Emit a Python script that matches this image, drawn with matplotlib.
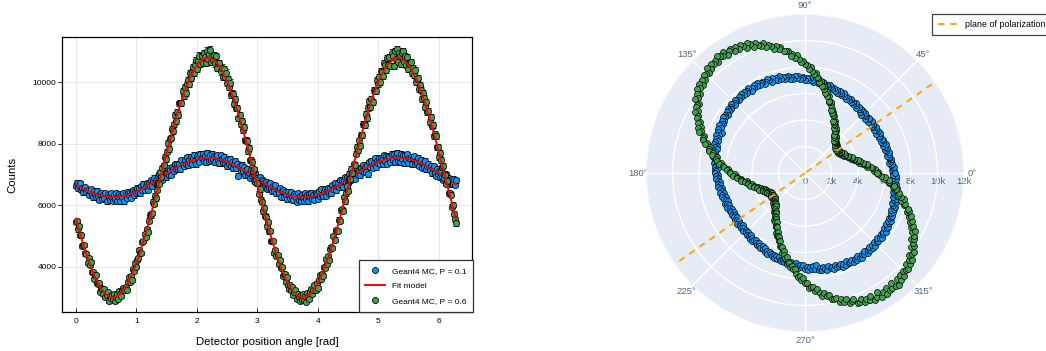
import numpy as np
import matplotlib
matplotlib.use("Agg")
import matplotlib.pyplot as plt
from matplotlib.lines import Line2D
from matplotlib.transforms import ScaledTranslation

plt.rcParams['font.family'] = ['Liberation Sans', 'DejaVu Sans']

# detector positions (degrees), one bin per degree
ANGLE_DEG = list(range(0, 361))

# Geant4 MC counts, P = 0.1 (rows of 12 degrees)
COUNTS_P01 = [
    6641, 6725, 6550, 6650, 6710, 6505, 6576, 6422, 6574, 6591, 6428, 6492,
    6345, 6480, 6519, 6345, 6266, 6452, 6379, 6262, 6466, 6295, 6175, 6370,
    6392, 6198, 6321, 6230, 6399, 6134, 6330, 6276, 6173, 6401, 6231, 6140,
    6331, 6201, 6393, 6156, 6295, 6364, 6129, 6330, 6261, 6398, 6137, 6375,
    6245, 6445, 6326, 6422, 6239, 6422, 6496, 6320, 6454, 6390, 6575, 6447,
    6548, 6391, 6614, 6502, 6696, 6500, 6620, 6715, 6510, 6710, 6621, 6812,
    6633, 6785, 6887, 6719, 6826, 6693, 6940, 7008, 6850, 6982, 6835, 7062,
    7059, 6911, 7063, 7195, 6997, 7143, 6999, 7230, 7170, 7120, 7325, 7185,
    7349, 7168, 7336, 7164, 7462, 7348, 7275, 7460, 7336, 7560, 7294, 7473,
    7371, 7573, 7334, 7545, 7635, 7445, 7343, 7592, 7549, 7415, 7671, 7546,
    7650, 7454, 7597, 7399, 7709, 7570, 7429, 7639, 7477, 7674, 7510, 7606,
    7391, 7585, 7619, 7452, 7373, 7625, 7495, 7375, 7574, 7383, 7476, 7278,
    7504, 7350, 7506, 7270, 7405, 7208, 7337, 7434, 7206, 7338, 6959, 7260,
    7100, 7310, 7110, 7230, 6979, 7158, 7187, 6975, 7063, 6891, 7139, 6947,
    7025, 6812, 7040, 6818, 6875, 6703, 6911, 6749, 6837, 6595, 6783, 6732,
    6771, 6530, 6690, 6550, 6720, 6560, 6451, 6617, 6464, 6646, 6398, 6502,
    6395, 6550, 6284, 6450, 6486, 6262, 6429, 6327, 6196, 6435, 6345, 6225,
    6427, 6258, 6161, 6355, 6289, 6124, 6400, 6186, 6303, 6141, 6351, 6240,
    6151, 6401, 6213, 6326, 6130, 6374, 6259, 6415, 6201, 6338, 6177, 6395,
    6355, 6215, 6456, 6297, 6519, 6342, 6296, 6480, 6544, 6310, 6495, 6562,
    6398, 6566, 6394, 6652, 6521, 6720, 6490, 6640, 6730, 6590, 6811, 6652,
    6823, 6605, 6807, 6909, 6731, 6903, 6735, 7028, 6920, 6832, 7055, 6927,
    6859, 7071, 7163, 6985, 7117, 6978, 7219, 7120, 7300, 7090, 7250, 7070,
    7319, 7008, 7396, 7234, 7452, 7218, 7375, 7520, 7246, 7450, 7364, 7548,
    7331, 7533, 7474, 7335, 7625, 7425, 7603, 7352, 7589, 7555, 7411, 7676,
    7480, 7654, 7397, 7609, 7699, 7440, 7569, 7409, 7677, 7514, 7630, 7366,
    7631, 7455, 7649, 7382, 7533, 7575, 7335, 7525, 7584, 7353, 7451, 7378,
    7544, 7290, 7436, 7480, 7215, 7368, 7242, 7444, 7166, 7288, 7339, 7160,
    7290, 7050, 7210, 7260, 7059, 6958, 7187, 7025, 7123, 6911, 7129, 6917,
    6825, 7022, 6860, 7008, 6745, 6883, 6831, 6689, 6857, 6685, 6843, 6672,
    6811,
]

# Geant4 MC counts, P = 0.6 (rows of 12 degrees)
COUNTS_P06 = [
    5456, 5480, 5218, 5322, 5053, 5027, 4693, 4725, 4717, 4438, 4417, 4121,
    4278, 4061, 4152, 3833, 3839, 3625, 3732, 3753, 3478, 3446, 3489, 3205,
    3315, 3292, 3116, 3292, 3017, 3094, 3179, 2889, 3060, 2986, 3089, 2940,
    3114, 2893, 3040, 3109, 2969, 3221, 3112, 3052, 3241, 3334, 3245, 3350,
    3269, 3516, 3663, 3523, 3692, 3585, 3922, 3883, 4122, 4011, 4235, 4301,
    4542, 4443, 4467, 4800, 4838, 5065, 4976, 5227, 5143, 5503, 5696, 5675,
    5749, 6116, 6049, 6311, 6228, 6511, 6732, 6704, 7070, 6922, 7223, 7300,
    7582, 7489, 7741, 8019, 7826, 8165, 8199, 8488, 8407, 8623, 8919, 8730,
    9037, 8920, 9303, 9322, 9313, 9694, 9550, 9834, 9658, 9932, 10068, 9945,
    10293, 10137, 10312, 10484, 10286, 10555, 10705, 10416, 10669, 10858, 10588, 10834,
    10611, 10931, 10820, 10612, 11016, 10740, 10906, 11052, 10640, 10836, 10711, 10864,
    10603, 10838, 10459, 10606, 10625, 10345, 10466, 10174, 10407, 10167, 10308, 9960,
    10093, 9827, 9983, 9564, 9655, 9609, 9298, 9462, 9163, 9170, 8817, 8920,
    8629, 8748, 8432, 8533, 8104, 8130, 8086, 7759, 7861, 7459, 7482, 7405,
    7113, 7167, 6760, 6819, 6717, 6381, 6518, 6176, 6109, 5806, 5924, 5665,
    5636, 5318, 5463, 5152, 5166, 4850, 4853, 4850, 4457, 4558, 4357, 4401,
    4100, 4241, 3982, 3993, 3697, 3785, 3782, 3518, 3683, 3406, 3284, 3405,
    3245, 3354, 3096, 3182, 3267, 2951, 3119, 3019, 2910, 3103, 2944, 3140,
    2919, 3058, 2880, 3144, 3069, 2966, 3192, 3292, 3131, 3254, 3415, 3245,
    3494, 3316, 3568, 3753, 3597, 3760, 3702, 4003, 3962, 4246, 4090, 4346,
    4242, 4583, 4637, 4610, 5003, 4890, 5191, 5172, 5173, 5533, 5491, 5840,
    5884, 5826, 6269, 6131, 6398, 6616, 6467, 6839, 6870, 7187, 7063, 7330,
    7322, 7674, 7886, 7784, 8106, 7935, 8279, 8273, 8647, 8638, 8599, 8960,
    8827, 9150, 9383, 9192, 9458, 9349, 9750, 9724, 9703, 10062, 9923, 10165,
    10013, 10367, 10317, 10194, 10606, 10545, 10385, 10776, 10549, 10798, 10513, 10954,
    10831, 10511, 11010, 10752, 11056, 10640, 10936, 10852, 10580, 10941, 10991, 10634,
    10833, 10558, 10809, 10436, 10575, 10635, 10296, 10454, 10217, 10387, 9993, 10105,
    10133, 9767, 9888, 9744, 9460, 9639, 9468, 9192, 9363, 9020, 9067, 8710,
    8869, 8558, 8597, 8233, 8314, 8255, 7876, 7904, 7571, 7699, 7472, 7230,
    7283, 6897, 6990, 6704, 6777, 6391, 6398, 6341, 5959, 6016, 5734, 5545,
    5416,
]

# fit model, sampled every 6 degrees
FIT_DEG = list(range(0, 361, 6))
FIT_P01 = [
    6681, 6561, 6455, 6369, 6307, 6270, 6261, 6279, 6325, 6396, 6488, 6600, 6723, 6855, 6989,
    7119, 7239, 7345, 7431, 7493, 7530, 7539, 7521, 7475, 7404, 7312, 7200, 7077, 6945, 6811,
    6681, 6561, 6455, 6369, 6307, 6270, 6261, 6279, 6325, 6396, 6488, 6600, 6723, 6855, 6989,
    7119, 7239, 7345, 7431, 7493, 7530, 7539, 7521, 7475, 7404, 7312, 7200, 7077, 6945, 6811,
    6681,
]
FIT_P06 = [
    5566, 4833, 4190, 3667, 3285, 3059, 3004, 3117, 3394, 3827, 4392, 5071, 5824, 6627, 7442,
    8234, 8967, 9610, 10133, 10515, 10741, 10796, 10683, 10406, 9973, 9408, 8729, 7976, 7173, 6358,
    5566, 4833, 4190, 3667, 3285, 3059, 3004, 3117, 3394, 3827, 4392, 5071, 5824, 6627, 7442,
    8234, 8967, 9610, 10133, 10515, 10741, 10796, 10683, 10406, 9973, 9408, 8729, 7976, 7173, 6358,
    5566,
]

PLANE_DEG = 35
PLANE_R = 11700

BLUE = '#009AFA'
GREEN = '#3DA44D'

fig = plt.figure(figsize=(10.46, 3.51), dpi=100)

# ---- left: counts vs angle ----
ax = fig.add_axes([0.0593, 0.1111, 0.392, 0.7835])
x = np.deg2rad(ANGLE_DEG)
xf = np.deg2rad(FIT_DEG)
err_kw = dict(fmt='o', ms=4.5, mec='black', mew=0.55, ecolor='black',
              elinewidth=0.6, capsize=2.0, capthick=0.6)

ax.errorbar(x, COUNTS_P01, yerr=np.sqrt(COUNTS_P01), mfc=BLUE, zorder=3, **err_kw)
ax.plot(xf, FIT_P01, color='red', lw=1.4, zorder=4)
ax.errorbar(x, COUNTS_P06, yerr=np.sqrt(COUNTS_P06), mfc=GREEN, zorder=5, **err_kw)
ax.plot(xf, FIT_P06, color='red', lw=1.4, zorder=6)

ax.set_xlim(-0.23, 6.55)
ax.set_ylim(2540, 11460)
ax.set_xticks([0, 1, 2, 3, 4, 5, 6])
ax.set_yticks([4000, 6000, 8000, 10000])
ax.grid(color='#e4e4e4', lw=0.6)
ax.set_axisbelow(True)
ax.tick_params(axis='x', direction='in', length=3, width=0.6, labelsize=6, pad=4)
ax.tick_params(axis='y', direction='out', length=3, width=0.6, labelsize=6, pad=1)
for s in ax.spines.values():
    s.set_linewidth(0.9)
ax.set_xlabel('Detector position angle [rad]', fontsize=8.2, labelpad=9)
ax.set_ylabel('Counts', fontsize=8.2, labelpad=11)

handles = [
    Line2D([], [], ls='', marker='o', ms=4.3, mfc=BLUE, mec='black', mew=0.6),
    Line2D([], [], color='red', lw=1.4),
    Line2D([], [], ls='', marker='o', ms=4.3, mfc=GREEN, mec='black', mew=0.6),
]
leg = ax.legend(handles, ['Geant4 MC, P = 0.1', 'Fit model', 'Geant4 MC, P = 0.6'],
                loc='lower right', bbox_to_anchor=(1.003, 0.0), fontsize=6,
                fancybox=False, edgecolor='#333333', framealpha=1,
                handlelength=2.4, borderpad=0.8, labelspacing=0.9, borderaxespad=0)
leg.get_frame().set_linewidth(0.9)

# ---- right: polar view ----
axp = fig.add_axes([0.6176, 0.0541, 0.304, 0.906], projection='polar')
axp.set_facecolor('#E5ECF6')
axp.spines['polar'].set_visible(False)
axp.set_ylim(0, 12000)
r_ticks = [0, 2000, 4000, 6000, 8000, 10000, 12000]
axp.set_yticks(r_ticks)
axp.set_yticklabels([])
axp.set_xticks(np.deg2rad([0, 45, 90, 135, 180, 225, 270, 315]))
axp.set_xticklabels(['0°', '45°', '90°', '135°', '180°', '225°', '270°', '315°'])
axp.tick_params(axis='x', labelsize=6.8, labelcolor='#506784', pad=-4.5)
axp.grid(color='white', lw=1.0)

shift = axp.transData + ScaledTranslation(0, -3 / 72, fig.dpi_scale_trans)
for r in r_ticks:
    lab = '0' if r == 0 else f'{r // 1000}k'
    axp.text(0, r, lab, transform=shift, ha='center', va='top', fontsize=6.8,
             color='#506784', zorder=1)

pol_kw = dict(fmt='o', ms=4.3, mec='black', mew=0.5, ecolor='#222222',
              elinewidth=0.5, capsize=1.8, capthick=0.5)
axp.errorbar(x, COUNTS_P01, yerr=np.sqrt(COUNTS_P01), mfc=BLUE, zorder=3, **pol_kw)
axp.errorbar(x, COUNTS_P06, yerr=np.sqrt(COUNTS_P06), mfc=GREEN, zorder=4, **pol_kw)

th = np.deg2rad(PLANE_DEG)
axp.plot([th, th], [PLANE_R, 0], color='orange', lw=1.4, ls='--', dashes=(3.3, 3.0), zorder=5)
axp.plot([th + np.pi, th + np.pi], [0, PLANE_R], color='orange', lw=1.4, ls='--',
         dashes=(3.3, 3.0), zorder=5)

fleg = fig.legend([Line2D([], [], color='orange', lw=1.4, ls='--', dashes=(3.3, 3.0))],
                  ['plane of polarization'], loc='upper left',
                  bbox_to_anchor=(932 / 1046, 1 - 14 / 351), fontsize=6.4,
                  fancybox=False, edgecolor='#444444', framealpha=1,
                  handlelength=2.2, borderaxespad=0, borderpad=0.7)
fleg.get_frame().set_linewidth(0.9)

fig.savefig('out.png', dpi=100)
